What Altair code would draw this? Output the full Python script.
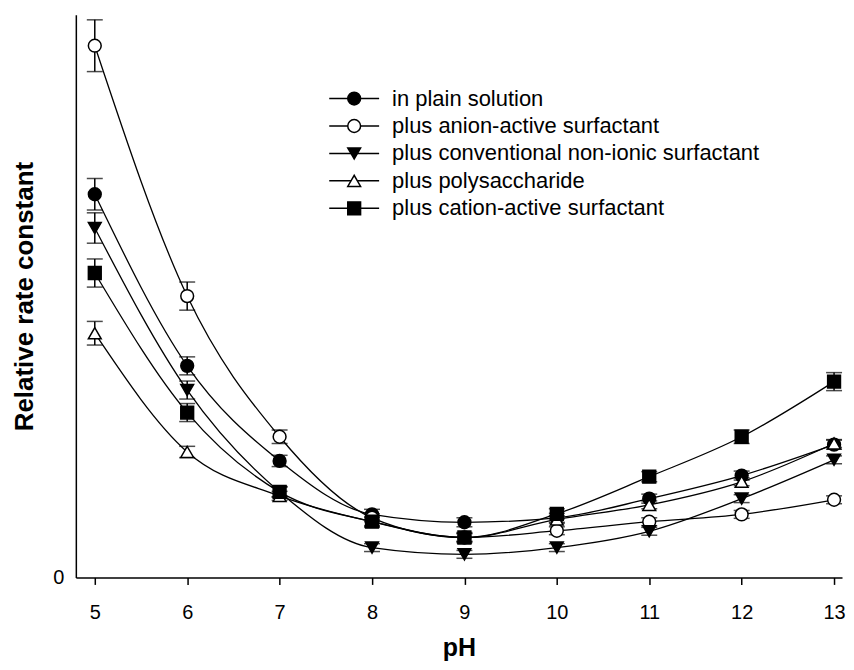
import altair as alt
import pandas as pd

ph = [5, 6, 7, 8, 9, 10, 11, 12, 13]
series_names = [
    "in plain solution",
    "plus anion-active surfactant",
    "plus conventional non-ionic surfactant",
    "plus polysaccharide",
    "plus cation-active surfactant",
]

plain = [6.81, 3.76, 2.07, 1.12, 0.98, 1.06, 1.40, 1.81, 2.36]
anion = [9.45, 5.00, 2.50, 1.06, 0.71, 0.83, 0.99, 1.12, 1.38]
nonionic = [6.21, 3.33, 1.52, 0.53, 0.41, 0.53, 0.82, 1.40, 2.09]
poly = [4.34, 2.23, 1.45, 0.99, 0.71, 1.03, 1.29, 1.70, 2.38]
cation = [5.41, 2.93, 1.52, 0.99, 0.71, 1.13, 1.79, 2.50, 3.48]

plain_err = [0.28, 0.16, 0.10, 0.09, 0.08, 0.08, 0.08, 0.08, 0.08]
anion_err = [0.46, 0.25, 0.12, 0.07, 0.07, 0.07, 0.07, 0.07, 0.07]
nonionic_err = [0.27, 0.16, 0.09, 0.07, 0.07, 0.07, 0.07, 0.07, 0.07]
poly_err = [0.21, 0.10, 0.08, 0.07, 0.07, 0.07, 0.07, 0.07, 0.07]
cation_err = [0.25, 0.16, 0.09, 0.09, 0.09, 0.09, 0.09, 0.12, 0.16]

shapes = ["circle", "circle", "triangle-down", "triangle-up", "square"]
fills = ["black", "white", "black", "white", "black"]

values = [plain, anion, nonionic, poly, cation]
errors = [plain_err, anion_err, nonionic_err, poly_err, cation_err]

rows = []
for name, vals, errs in zip(series_names, values, errors):
    for p, v, e in zip(ph, vals, errs):
        rows.append({"pH": p, "series": name, "value": v, "lo": v - e, "hi": v + e})
df = pd.DataFrame(rows)
legend_df = pd.DataFrame({"series": series_names})

FONT = "Liberation Sans"

x_scale = alt.Scale(domain=[4.795, 13.086], nice=False, zero=False)
y_scale = alt.Scale(domain=[0, 10], nice=False, zero=True)

x_enc = alt.X(
    "pH:Q",
    scale=x_scale,
    axis=alt.Axis(
        values=ph, format="d", title="pH", grid=False, tickSize=7, tickWidth=1.5,
        tickColor="black", domainColor="black", domainWidth=1.5,
        labelFontSize=20, labelPadding=18, labelColor="black",
        titleFontSize=25, titleFontWeight="bold", titlePadding=13,
        titleColor="black", labelFont=FONT, titleFont=FONT,
    ),
)
y_enc = alt.Y(
    "value:Q",
    scale=y_scale,
    axis=alt.Axis(
        values=[0], format="d", title="Relative rate constant", grid=False,
        ticks=False, domainColor="black", domainWidth=1.5,
        labelFontSize=20, labelPadding=12, labelColor="black",
        titleFontSize=26, titleFontWeight="bold", titlePadding=15,
        titleColor="black", labelFont=FONT, titleFont=FONT,
    ),
)

shape_scale = alt.Scale(domain=series_names, range=shapes)
fill_scale = alt.Scale(domain=series_names, range=fills)

base = alt.Chart(df)

lines = base.mark_line(interpolate="monotone", color="black", strokeWidth=1.3).encode(
    x=x_enc, y=y_enc, detail="series:N"
)
err_rule = base.mark_rule(color="black", strokeWidth=1.5).encode(
    x="pH:Q", y=alt.Y("lo:Q", scale=y_scale), y2="hi:Q"
)
cap_lo = base.mark_tick(orient="horizontal", color="black", size=16, thickness=1.5).encode(
    x="pH:Q", y=alt.Y("lo:Q", scale=y_scale)
)
cap_hi = base.mark_tick(orient="horizontal", color="black", size=16, thickness=1.5).encode(
    x="pH:Q", y=alt.Y("hi:Q", scale=y_scale)
)
points = base.mark_point(size=165, stroke="black", strokeWidth=1.5, opacity=1).encode(
    x="pH:Q",
    y="value:Q",
    shape=alt.Shape("series:N", scale=shape_scale, legend=None),
    fill=alt.Fill("series:N", scale=fill_scale, legend=None),
)

main = alt.layer(lines, err_rule, cap_lo, cap_hi, points)

# hand-built legend (line + marker + label), rows placed by a point scale
leg_y = alt.Y(
    "series:N",
    scale=alt.Scale(type="point", domain=series_names, range=[84, 194], padding=0),
    axis=None,
)
leg_base = alt.Chart(legend_df)
leg_line = leg_base.mark_rule(color="black", strokeWidth=1.5).encode(
    x=alt.value(254), x2=alt.value(304), y=leg_y
)
leg_pts = leg_base.mark_point(size=165, stroke="black", strokeWidth=1.5, opacity=1).encode(
    x=alt.value(279),
    y=leg_y,
    shape=alt.Shape("series:N", scale=shape_scale, legend=None),
    fill=alt.Fill("series:N", scale=fill_scale, legend=None),
)
leg_text = leg_base.mark_text(
    align="left", baseline="middle", fontSize=22, font=FONT, color="black"
).encode(x=alt.value(317), y=leg_y, text="series:N")

legend = alt.layer(leg_line, leg_pts, leg_text)

chart = (
    alt.layer(main, legend)
    .resolve_scale(y="independent")
    .properties(
        width=768, height=564,
        padding={"left": 3, "top": 6, "right": 0, "bottom": 0},
        background="white",
    )
    .configure_view(stroke=None)
)

chart.save("out.html", embed_options={"renderer": "svg", "actions": False})
